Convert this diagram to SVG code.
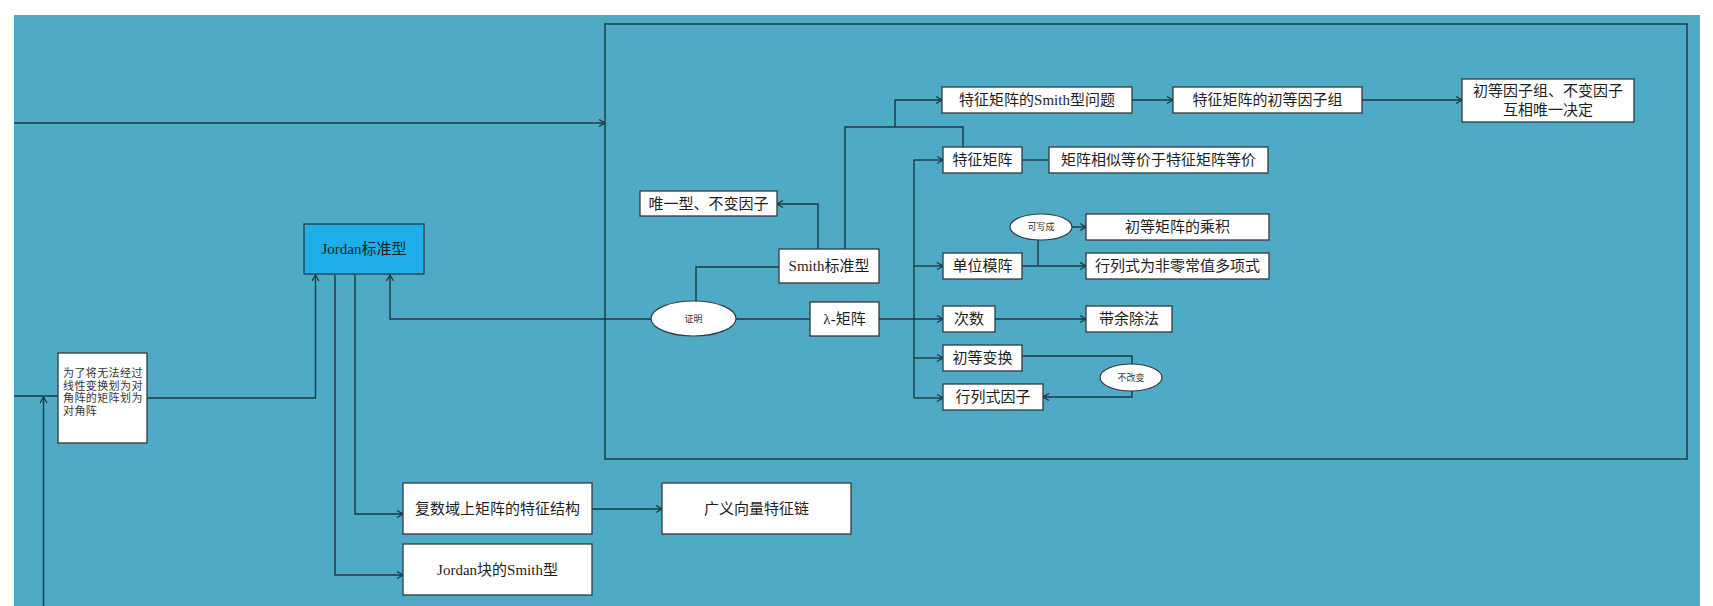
<svg xmlns="http://www.w3.org/2000/svg" width="1713" height="606" viewBox="0 0 1713 606">
<style>
.bg{fill:#4faac5}
.box{fill:#ffffff;stroke:#333a3d;stroke-width:1.3}
.ell{fill:#ffffff;stroke:#333a3d;stroke-width:1.2}
.jordan{fill:#1eaee8;stroke:#2b3a40;stroke-width:1.3}
.cont{fill:none;stroke:#23424c;stroke-width:1.6}
.t{font-family:"Liberation Serif","Noto Sans CJK SC",serif;font-size:15px;fill:#1e1e1e;text-anchor:middle;dominant-baseline:central}
.s{font-family:"Liberation Serif","Noto Sans CJK SC",serif;font-size:9px;fill:#333;text-anchor:middle;dominant-baseline:central}
.l{font-family:"Liberation Serif","Noto Sans CJK SC",serif;font-size:11px;fill:#333;letter-spacing:0.4px}
.c{fill:none;stroke:#1c3840;stroke-width:1.4}
.a{marker-end:url(#arr)}
</style>
<defs>
<marker id="arr" markerUnits="userSpaceOnUse" markerWidth="9" markerHeight="9" refX="7" refY="4" orient="auto">
<path d="M1,0.5 L7,4 L1,7.5" fill="none" stroke="#1c3840" stroke-width="1.3"/>
</marker>
</defs>
<rect x="0" y="0" width="1713" height="606" fill="#ffffff"/>
<rect class="bg" x="14" y="15" width="1686" height="591"/>
<rect id="container" class="cont" x="605" y="24" width="1082" height="435"/>

<g id="connectors">
<path class="c a" d="M14,123 H605"/>
<path class="c" d="M14,396 H58"/>
<path class="c a" d="M43.5,606 V397"/>
<path class="c a" d="M147,398 H315.5 V275"/>
<path class="c a" d="M335,275 V575 H403"/>
<path class="c a" d="M355,275 V514 H403"/>
<path class="c a" d="M651,319 H390 V275"/>
<path class="c" d="M736,319 H810"/>
<path class="c" d="M696,301 V267 H779"/>
<path class="c a" d="M818,249 V204 H777"/>
<path class="c" d="M845,249 V127 H963 V147"/>
<path class="c a" d="M895,127 V100 H942"/>
<path class="c a" d="M1132,100 H1173"/>
<path class="c a" d="M1362,100 H1462"/>
<path class="c" d="M1022,160 H1049"/>
<path class="c" d="M914,160 V398"/>
<path class="c a" d="M914,160 H943"/>
<path class="c a" d="M914,266 H943"/>
<path class="c a" d="M879,319 H943"/>
<path class="c a" d="M914,358 H943"/>
<path class="c a" d="M914,398 H943"/>
<path class="c a" d="M1022,266 H1086"/>
<path class="c" d="M1038,240 V266"/>
<path class="c a" d="M1072,227 H1086"/>
<path class="c a" d="M995,319 H1086"/>
<path class="c" d="M1022,356 H1132 V364"/>
<path class="c a" d="M1132,391 V397 H1043"/>
<path class="c a" d="M592,509 H662"/>
</g>

<g id="n-jordan"><rect class="jordan" x="304" y="224" width="120" height="50"/><text class="t" x="364" y="249">Jordan标准型</text></g>
<g id="n-purpose"><rect class="box" x="58" y="353" width="89" height="90"/>
<text class="l" x="63" y="377">为了将无法经过</text>
<text class="l" x="63" y="390">线性变换划为对</text>
<text class="l" x="63" y="402">角阵的矩阵划为</text>
<text class="l" x="63" y="415">对角阵</text></g>
<g id="n-complex"><rect class="box" x="403" y="483" width="189" height="51"/><text class="t" x="497.5" y="508.5">复数域上矩阵的特征结构</text></g>
<g id="n-jsmith"><rect class="box" x="403" y="544" width="189" height="51"/><text class="t" x="497.5" y="569.5">Jordan块的Smith型</text></g>
<g id="n-chain"><rect class="box" x="662" y="483" width="189" height="51"/><text class="t" x="756.5" y="508.5">广义向量特征链</text></g>

<g id="n-proof"><ellipse class="ell" cx="693.5" cy="318.5" rx="42.5" ry="17.5"/><text class="s" x="693.5" y="318.5">证明</text></g>
<g id="n-lambda"><rect class="box" x="810" y="302" width="69" height="34"/><text class="t" x="844.5" y="319">λ-矩阵</text></g>
<g id="n-smith"><rect class="box" x="779" y="249" width="100" height="34"/><text class="t" x="829" y="266">Smith标准型</text></g>
<g id="n-unique"><rect class="box" x="640" y="191" width="137" height="25"/><text class="t" x="708.5" y="203.5">唯一型、不变因子</text></g>
<g id="n-smithq"><rect class="box" x="942" y="87" width="190" height="26"/><text class="t" x="1037" y="100">特征矩阵的Smith型问题</text></g>
<g id="n-elemgrp"><rect class="box" x="1173" y="87" width="189" height="26"/><text class="t" x="1267.5" y="100">特征矩阵的初等因子组</text></g>
<g id="n-determine"><rect class="box" x="1462" y="79" width="172" height="43"/><text class="t" x="1548" y="91">初等因子组、不变因子</text><text class="t" x="1548" y="110">互相唯一决定</text></g>
<g id="n-charmat"><rect class="box" x="943" y="147" width="79" height="26"/><text class="t" x="982.5" y="160">特征矩阵</text></g>
<g id="n-similar"><rect class="box" x="1049" y="147" width="219" height="26"/><text class="t" x="1158.5" y="160">矩阵相似等价于特征矩阵等价</text></g>
<g id="n-unimod"><rect class="box" x="943" y="253" width="79" height="26"/><text class="t" x="982.5" y="266">单位模阵</text></g>
<g id="n-canwrite"><ellipse class="ell" cx="1041" cy="227" rx="31" ry="13"/><text class="s" x="1041" y="227">可写成</text></g>
<g id="n-product"><rect class="box" x="1086" y="214" width="183" height="26"/><text class="t" x="1177.5" y="227">初等矩阵的乘积</text></g>
<g id="n-nonzero"><rect class="box" x="1086" y="253" width="183" height="26"/><text class="t" x="1177.5" y="266">行列式为非零常值多项式</text></g>
<g id="n-degree"><rect class="box" x="943" y="306" width="52" height="26"/><text class="t" x="969" y="319">次数</text></g>
<g id="n-division"><rect class="box" x="1086" y="306" width="86" height="26"/><text class="t" x="1129" y="319">带余除法</text></g>
<g id="n-elemop"><rect class="box" x="943" y="345" width="79" height="26"/><text class="t" x="982.5" y="358">初等变换</text></g>
<g id="n-unchanged"><ellipse class="ell" cx="1131" cy="377.5" rx="31" ry="13.5"/><text class="s" x="1131" y="377.5">不改变</text></g>
<g id="n-detfac"><rect class="box" x="943" y="384" width="100" height="26"/><text class="t" x="993" y="397">行列式因子</text></g>
</svg>
